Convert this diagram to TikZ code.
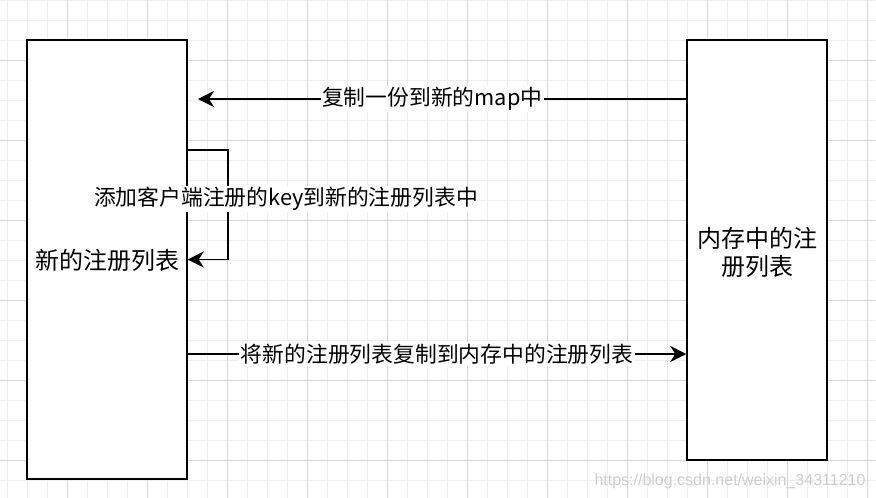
\documentclass[tikz,border=0pt]{standalone}
\usepackage{fontspec}
\newfontfamily\cjk{Noto Sans CJK SC}
\newfontfamily\wmfont{Liberation Sans}
\usetikzlibrary{arrows.meta}
\definecolor{minorgrid}{RGB}{238,238,238}
\definecolor{majorgrid}{RGB}{212,212,212}
\definecolor{wmgray}{RGB}{205,205,205}
\tikzset{
  box/.style={draw=black, line width=1.5pt, fill=white, rectangle, inner sep=0pt},
  boxtext/.style={font=\cjk\fontsize{24}{28}\selectfont},
  conn/.style={draw=black, line width=1.5pt, -{Stealth[length=16pt,width=16pt,inset=5pt]}},
  edgelabel/.style={fill=white, inner sep=1.5pt, font=\cjk\fontsize{21.8}{26}\selectfont},
}
\begin{document}
\begin{tikzpicture}[x=1pt,y=-1pt]
\useasboundingbox (0,0) rectangle (876,498);
\fill[white] (0,0) rectangle (876,498);
% grid
\foreach \x in {7,27,...,867} \draw[minorgrid, line width=1pt] (\x,0) -- (\x,498);
\foreach \y in {0,20,...,480} \draw[minorgrid, line width=1pt] (0,\y) -- (876,\y);
\foreach \x in {67,147,...,867} \draw[majorgrid, line width=1pt] (\x,0) -- (\x,498);
\foreach \y in {60,140,...,460} \draw[majorgrid, line width=1pt] (0,\y) -- (876,\y);
% boxes
\node[box, minimum width=160pt, minimum height=439pt] (L) at (107,259.5) {};
\node[boxtext] (Ltext) at (107,260) {新的注册列表};
\node[box, minimum width=140pt, minimum height=420pt] (R) at (757,250) {};
\node[boxtext, align=center] (Rtext) at (757,252) {内存中的注\\册列表};
% connectors
\coordinate (topEnd) at (198,99);
\draw[conn] (R.west |- topEnd) -- (topEnd)
  node[edgelabel, pos=0.52] (topLabel) {复制一份到新的map中};
\draw[conn] ([yshift=109.5pt]L.east) -- ++(40,0) |- (L.east);
\node[edgelabel] (loopLabel) at (286,199) {添加客户端注册的key到新的注册列表中};
\coordinate (botY) at (0,354);
\draw[conn] (L.east |- botY) -- (R.west |- botY)
  node[edgelabel, pos=0.5] (botLabel) {将新的注册列表复制到内存中的注册列表};
% watermark
\node[font=\wmfont\fontsize{16}{18}\selectfont, text=wmgray, inner sep=0pt] (wm) at (730,481) {https://blog.csdn.net/weixin\_34311210};
\end{tikzpicture}
\end{document}
